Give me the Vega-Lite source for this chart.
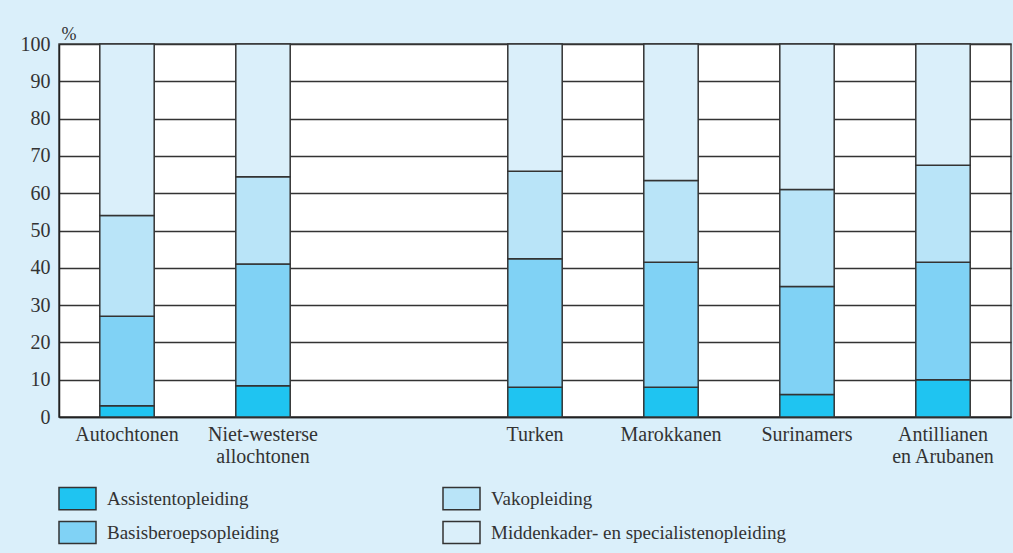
{
  "$schema": "https://vega.github.io/schema/vega-lite/v6.json",
  "width": 952,
  "height": 373,
  "autosize": {"type": "none"},
  "padding": {"left": 59, "top": 44, "right": 2, "bottom": 136},
  "background": "#daeffa",
  "config": {
    "font": "Liberation Serif",
    "view": {"stroke": "#444", "strokeWidth": 1.5, "fill": "white"}
  },
  "data": {
    "values": [
      {"groep": "Autochtonen", "opleiding": "Assistentopleiding", "niveau": 1, "pct": 3},
      {"groep": "Autochtonen", "opleiding": "Basisberoepsopleiding", "niveau": 2, "pct": 24},
      {"groep": "Autochtonen", "opleiding": "Vakopleiding", "niveau": 3, "pct": 27},
      {"groep": "Autochtonen", "opleiding": "Middenkader- en specialistenopleiding", "niveau": 4, "pct": 46},
      {"groep": "Niet-westerse allochtonen", "opleiding": "Assistentopleiding", "niveau": 1, "pct": 8.4},
      {"groep": "Niet-westerse allochtonen", "opleiding": "Basisberoepsopleiding", "niveau": 2, "pct": 32.6},
      {"groep": "Niet-westerse allochtonen", "opleiding": "Vakopleiding", "niveau": 3, "pct": 23.4},
      {"groep": "Niet-westerse allochtonen", "opleiding": "Middenkader- en specialistenopleiding", "niveau": 4, "pct": 35.6},
      {"groep": "Turken", "opleiding": "Assistentopleiding", "niveau": 1, "pct": 8},
      {"groep": "Turken", "opleiding": "Basisberoepsopleiding", "niveau": 2, "pct": 34.4},
      {"groep": "Turken", "opleiding": "Vakopleiding", "niveau": 3, "pct": 23.5},
      {"groep": "Turken", "opleiding": "Middenkader- en specialistenopleiding", "niveau": 4, "pct": 34.1},
      {"groep": "Marokkanen", "opleiding": "Assistentopleiding", "niveau": 1, "pct": 8},
      {"groep": "Marokkanen", "opleiding": "Basisberoepsopleiding", "niveau": 2, "pct": 33.5},
      {"groep": "Marokkanen", "opleiding": "Vakopleiding", "niveau": 3, "pct": 21.9},
      {"groep": "Marokkanen", "opleiding": "Middenkader- en specialistenopleiding", "niveau": 4, "pct": 36.6},
      {"groep": "Surinamers", "opleiding": "Assistentopleiding", "niveau": 1, "pct": 6},
      {"groep": "Surinamers", "opleiding": "Basisberoepsopleiding", "niveau": 2, "pct": 29},
      {"groep": "Surinamers", "opleiding": "Vakopleiding", "niveau": 3, "pct": 26},
      {"groep": "Surinamers", "opleiding": "Middenkader- en specialistenopleiding", "niveau": 4, "pct": 39},
      {"groep": "Antillianen en Arubanen", "opleiding": "Assistentopleiding", "niveau": 1, "pct": 10},
      {"groep": "Antillianen en Arubanen", "opleiding": "Basisberoepsopleiding", "niveau": 2, "pct": 31.5},
      {"groep": "Antillianen en Arubanen", "opleiding": "Vakopleiding", "niveau": 3, "pct": 26},
      {"groep": "Antillianen en Arubanen", "opleiding": "Middenkader- en specialistenopleiding", "niveau": 4, "pct": 32.5}
    ]
  },
  "mark": {"type": "bar", "stroke": "#333", "strokeWidth": 1.5},
  "encoding": {
    "x": {
      "field": "groep",
      "type": "nominal",
      "scale": {
        "domain": ["Autochtonen", "Niet-westerse allochtonen", " ", "Turken", "Marokkanen", "Surinamers", "Antillianen en Arubanen"],
        "paddingInner": 0.6,
        "paddingOuter": 0.3
      },
      "axis": {
        "title": null,
        "labelAngle": 0,
        "ticks": false,
        "domainColor": "#222",
        "domainWidth": 1.5,
        "labelFontSize": 20,
        "labelColor": "#333",
        "labelPadding": 7,
        "labelLineHeight": 22,
        "labelBaseline": "top",
        "labelExpr": "datum.value == 'Niet-westerse allochtonen' ? ['Niet-westerse', 'allochtonen'] : datum.value == 'Antillianen en Arubanen' ? ['Antillianen', 'en Arubanen'] : datum.label"
      }
    },
    "y": {
      "field": "pct",
      "type": "quantitative",
      "stack": "zero",
      "scale": {"domain": [0, 100], "nice": false},
      "axis": {
        "title": "%",
        "titleAngle": 0,
        "titleAlign": "left",
        "titleBaseline": "alphabetic",
        "titleX": 2,
        "titleY": -5,
        "titleFontSize": 18,
        "titleFontWeight": "normal",
        "titleColor": "#333",
        "values": [0, 10, 20, 30, 40, 50, 60, 70, 80, 90, 100],
        "ticks": false,
        "domainColor": "#222",
        "domainWidth": 1.5,
        "grid": true,
        "gridColor": "#333",
        "gridWidth": 1.5,
        "labelFontSize": 20,
        "labelColor": "#333",
        "labelPadding": 9
      }
    },
    "color": {
      "field": "opleiding",
      "type": "nominal",
      "scale": {
        "domain": ["Assistentopleiding", "Basisberoepsopleiding", "Vakopleiding", "Middenkader- en specialistenopleiding"],
        "range": ["#1fc4f1", "#80d2f5", "#b9e4f8", "#daeffa"]
      },
      "legend": {
        "title": null,
        "orient": "none",
        "legendX": -1,
        "legendY": 435,
        "columns": 2,
        "columnPadding": 160,
        "rowPadding": -3,
        "padding": 0,
        "symbolType": "M-1,-0.6H1V0.6H-1Z",
        "symbolSize": 1369,
        "symbolStrokeColor": "#333",
        "symbolStrokeWidth": 1.5,
        "symbolOpacity": 1,
        "symbolOffset": 0,
        "labelFontSize": 19,
        "labelColor": "#333",
        "labelOffset": 10,
        "labelLimit": 400
      }
    },
    "order": {"field": "niveau", "type": "quantitative"}
  }
}
